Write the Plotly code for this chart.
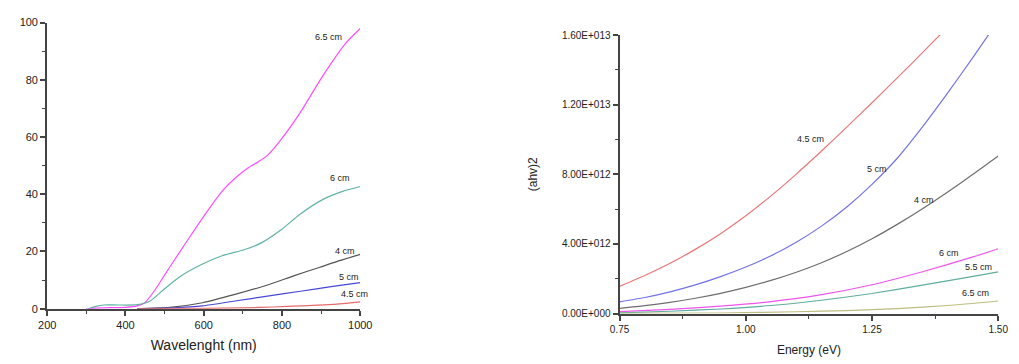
import plotly.graph_objects as go

# ---- Transmittance vs wavelength ----
wl_65 = [300, 340, 400, 430, 450, 470, 490, 513, 563, 613, 650, 680, 713, 740, 763, 797, 847, 897, 930, 963, 1000]
t_65 = [0, 0.3, 0.5, 1.0, 2.2, 5.5, 9.6, 14.5, 24.8, 34.8, 41.5, 45.6, 49.2, 51.4, 53.6, 59.0, 68.6, 79.8, 86.6, 92.8, 97.9]

wl_6 = [305, 325, 345, 380, 430, 463, 497, 538, 597, 647, 705, 747, 797, 847, 905, 955, 1000]
t_6 = [0, 0.8, 1.3, 1.3, 1.4, 2.7, 6.6, 11.1, 15.6, 18.5, 20.7, 23, 27.5, 33.1, 38.2, 41, 42.7]

wl_4 = [430, 513, 597, 680, 763, 830, 897, 947, 1000]
t_4 = [0, 0.45, 2.1, 5, 8.3, 11.5, 14.5, 16.8, 19]

wl_5 = [430, 520, 597, 680, 763, 847, 930, 1000]
t_5 = [0, 0.3, 1.0, 2.7, 4.4, 6.1, 7.8, 9.1]

wl_45 = [430, 600, 700, 780, 847, 930, 1000]
t_45 = [0, 0.1, 0.3, 0.6, 1.0, 1.5, 2.4]

# ---- (ahv)^2 vs photon energy ----
e_45 = [0.75, 0.80, 0.85, 0.90, 0.95, 1.00, 1.05, 1.10, 1.15, 1.20, 1.25, 1.30, 1.35, 1.40]
a_45 = [1.56e12, 2.185e12, 2.885e12, 3.685e12, 4.585e12, 5.61e12, 6.76e12, 8.01e12, 9.335e12, 10.71e12,
        12.11e12, 13.535e12, 14.985e12, 16.46e12]

e_5 = [0.75, 0.80, 0.85, 0.90, 0.95, 1.00, 1.05, 1.10, 1.15, 1.20, 1.25, 1.30, 1.35, 1.40, 1.45, 1.49]
a_5 = [0.67e12, 0.92e12, 1.245e12, 1.645e12, 2.12e12, 2.67e12, 3.32e12, 4.095e12, 5.02e12, 6.12e12,
       7.42e12, 8.92e12, 10.72e12, 12.67e12, 14.72e12, 16.4e12]

e_4 = [0.75, 0.80, 0.85, 0.90, 0.95, 1.00, 1.05, 1.10, 1.15, 1.20, 1.25, 1.30, 1.35, 1.40, 1.45, 1.50]
a_4 = [0.3e12, 0.45e12, 0.64e12, 0.875e12, 1.16e12, 1.5e12, 1.9e12, 2.37e12, 2.92e12, 3.56e12,
       4.295e12, 5.12e12, 6.02e12, 6.985e12, 7.995e12, 9.045e12]

e_6 = [0.75, 0.85, 0.95, 1.05, 1.15, 1.25, 1.35, 1.45, 1.50]
a_6 = [0.11e12, 0.24e12, 0.42e12, 0.68e12, 1.08e12, 1.65e12, 2.4e12, 3.25e12, 3.72e12]

e_55 = [0.75, 0.85, 0.95, 1.05, 1.15, 1.25, 1.35, 1.45, 1.50]
a_55 = [0.04e12, 0.13e12, 0.26e12, 0.46e12, 0.76e12, 1.15e12, 1.63e12, 2.13e12, 2.39e12]

e_65 = [0.75, 0.95, 1.10, 1.20, 1.30, 1.40, 1.50]
a_65 = [0.01e12, 0.03e12, 0.1e12, 0.17e12, 0.28e12, 0.46e12, 0.72e12]

left_series = [
    ("6.5 cm", wl_65, t_65, "#ff4cff"),
    ("6 cm", wl_6, t_6, "#5fb3a3"),
    ("4 cm", wl_4, t_4, "#555555"),
    ("5 cm", wl_5, t_5, "#4848d8"),
    ("4.5 cm", wl_45, t_45, "#e86a6a"),
]
right_series = [
    ("4.5 cm", e_45, a_45, "#e87878"),
    ("5 cm", e_5, a_5, "#7373e6"),
    ("4 cm", e_4, a_4, "#6e6e6e"),
    ("6 cm", e_6, a_6, "#ee55ee"),
    ("5.5 cm", e_55, a_55, "#5fae9e"),
    ("6.5 cm", e_65, a_65, "#bdbd80"),
]

left_labels = [("6.5 cm", 920, 95), ("6 cm", 947, 45.6), ("4 cm", 960, 20.3),
               ("5 cm", 970, 11.1), ("4.5 cm", 985, 5.2)]
right_labels = [("4.5 cm", 1.128, 10.0e12), ("5 cm", 1.26, 8.3e12), ("4 cm", 1.353, 6.5e12),
                ("6 cm", 1.403, 3.5e12), ("5.5 cm", 1.461, 2.7e12), ("6.5 cm", 1.455, 1.2e12)]

y2_vals = [0, 4e12, 8e12, 1.2e13, 1.6e13]
y2_text = ["0.00E+000", "4.00E+012", "8.00E+012", "1.20E+013", "1.60E+013"]
x2_vals = [0.75, 1.00, 1.25, 1.50]
x2_text = ["0.75", "1.00", "1.25", "1.50"]

fig = go.Figure()
for name, x, y, c in left_series:
    fig.add_trace(go.Scatter(x=x, y=y, mode="lines", line=dict(color=c, width=1.2, shape="spline", smoothing=0.6),
                             name=name, xaxis="x", yaxis="y", showlegend=False))
for name, x, y, c in right_series:
    fig.add_trace(go.Scatter(x=x, y=y, mode="lines", line=dict(color=c, width=1.2, shape="spline", smoothing=0.6),
                             name=name, xaxis="x2", yaxis="y2", showlegend=False))

annotations = []
for t, x, y in left_labels:
    annotations.append(dict(text=t, x=x, y=y, xref="x", yref="y", showarrow=False,
                            font=dict(size=9, color="#222222"), xanchor="center"))
for t, x, y in right_labels:
    annotations.append(dict(text=t, x=x, y=y, xref="x2", yref="y2", showarrow=False,
                            font=dict(size=9, color="#222222"), xanchor="center"))

TICK_COLOR = "#444444"
axis_common = dict(showline=True, linecolor=TICK_COLOR, linewidth=2, ticks="outside",
                   tickcolor=TICK_COLOR, ticklen=5, tickwidth=1.5, showgrid=False, zeroline=False,
                   tickfont=dict(size=11, color="#222222"),
                   minor=dict(ticks="outside", ticklen=3, tickcolor=TICK_COLOR, tickwidth=1.2, showgrid=False))

fig.update_layout(
    width=1019, height=364, margin=dict(l=0, r=0, t=0, b=0),
    paper_bgcolor="white", plot_bgcolor="white",
    font=dict(family="Liberation Sans, Arial, sans-serif", color="#222222"),
    xaxis=dict(domain=[0.0373, 0.3513], range=[200, 1000], anchor="y",
               tickvals=[200, 400, 600, 800, 1000],
               title=dict(text="Wavelenght (nm)", font=dict(size=14, color="#222222"), standoff=10),
               **{**axis_common, "minor": dict(axis_common["minor"], tickvals=[300, 500, 700, 900])}),
    yaxis=dict(domain=[0.140, 0.953], range=[0, 100], anchor="x",
               tickvals=[0, 20, 40, 60, 80, 100],
               **{**axis_common, "minor": dict(axis_common["minor"], tickvals=[10, 30, 50, 70, 90])}),
    xaxis2=dict(domain=[0.6114, 0.9912], range=[0.75, 1.5], anchor="y2",
                tickvals=x2_vals, ticktext=x2_text,
                title=dict(text="Energy (eV)", font=dict(size=12, color="#222222"), standoff=12),
                **{**axis_common, "tickfont": dict(size=10, color="#222222"),
                   "minor": dict(axis_common["minor"], tickvals=[0.875, 1.125, 1.375])}),
    yaxis2=dict(domain=[0.1264, 0.9176], range=[0, 1.6e13], anchor="x2",
                tickvals=y2_vals, ticktext=y2_text,
                title=dict(text="(ahv)2", font=dict(size=12, color="#222222"), standoff=22),
                **{**axis_common, "tickfont": dict(size=10, color="#222222"),
                   "minor": dict(axis_common["minor"], tickvals=[2e12, 6e12, 1e13, 1.4e13])}),
    annotations=annotations,
)

fig.write_html("out.html")
